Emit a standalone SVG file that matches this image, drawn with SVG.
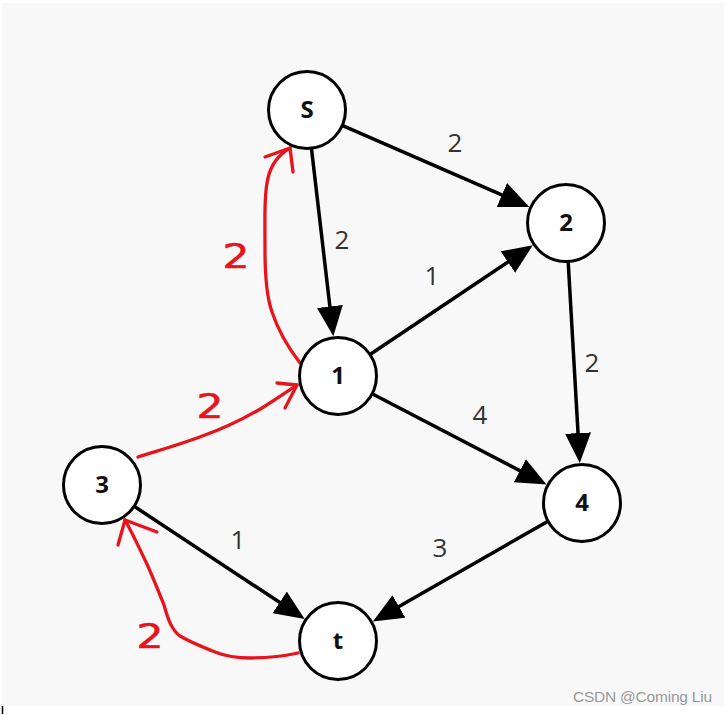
<svg xmlns="http://www.w3.org/2000/svg" width="726" height="715" viewBox="0 0 726 715">
<style>
.node circle{fill:#fff;stroke:#000;stroke-width:3}
.node text{font-family:"Open Sans","Liberation Sans",sans-serif;font-weight:bold;font-size:24px;fill:#111;text-anchor:middle}
.edge{stroke:#000;stroke-width:3.5;fill:none;marker-end:url(#ah)}
.elabel{font-family:"Open Sans","Liberation Sans",sans-serif;font-size:26px;fill:#333;text-anchor:middle}
.red{stroke:#e8141c;stroke-width:3.3;fill:none;stroke-linecap:round;stroke-linejoin:round}
.rlabel{font-family:"DejaVu Sans",sans-serif;font-size:34px;fill:#e8141c;stroke:#e8141c;stroke-width:0.6;text-anchor:middle}
</style>
<defs>
<marker id="ah" markerUnits="userSpaceOnUse" markerWidth="30" markerHeight="26" refX="8" refY="13" orient="auto">
<path d="M0,0 L30,13 L0,26 Z" fill="#000"/>
</marker>
</defs>
<rect x="0" y="0" width="726" height="715" fill="#fff"/>
<rect x="2" y="3" width="722" height="703" fill="#f8f8f8"/>
<line x1="2.5" y1="706" x2="2.5" y2="714" stroke="#000" stroke-width="1.5"/>
<g id="connectors">
<line class="edge" x1="342.7" y1="125.6" x2="509.2" y2="198.2"/>
<line class="edge" x1="311.5" y1="148.7" x2="330.8" y2="314.4"/>
<line class="edge" x1="370.4" y1="354.3" x2="514.5" y2="257.6"/>
<line class="edge" x1="568.2" y1="261.9" x2="578.5" y2="441.1"/>
<line class="edge" x1="372.6" y1="394" x2="527" y2="474.4"/>
<line class="edge" x1="134.5" y1="506.5" x2="286.3" y2="606.8"/>
<line class="edge" x1="548" y1="521.2" x2="392" y2="610.5"/>
<text class="elabel" x="455" y="152">2</text>
<text class="elabel" x="342" y="249">2</text>
<text class="elabel" x="432" y="285">1</text>
<text class="elabel" x="592" y="372">2</text>
<text class="elabel" x="480" y="424">4</text>
<text class="elabel" x="238" y="549">1</text>
<text class="elabel" x="440" y="557">3</text>
<path class="red" d="M300,363 C290,350 278,330 272,312 C266,295 265,275 265,250 C265,220 264,195 268,178 C271,165 278,155 290,148"/>
<path class="red" d="M265,157 L290,148 L293,172"/>
<path class="red" d="M138,457 C160,450 185,443 205,435 C225,428 245,418 262,408 C275,400 285,393 297,385"/>
<path class="red" d="M277,383 L297,385 L285,408"/>
<path class="red" d="M298,653 C280,657 265,658 250,658 C235,658 225,656 215,652 C200,646 190,642 180,636 C172,630 168,620 164,605 C158,590 152,575 146,562 C140,550 135,538 125,520"/>
<path class="red" d="M118,545 L125,520 L157,532"/>
<text class="rlabel" x="236" y="268" transform="translate(236,0) scale(1.25,1) translate(-236,0)">2</text>
<text class="rlabel" x="210" y="418" transform="translate(210,0) scale(1.25,1) translate(-210,0)">2</text>
<text class="rlabel" x="150" y="648" transform="translate(150,0) scale(1.25,1) translate(-150,0)">2</text>
</g>
<g id="node-s" class="node"><circle cx="307" cy="110" r="38.5"/><text x="307" y="118">S</text></g>
<g id="node-2" class="node"><circle cx="566" cy="223" r="38.5"/><text x="566" y="231">2</text></g>
<g id="node-1" class="node"><circle cx="338" cy="376" r="38.5"/><text x="338" y="384">1</text></g>
<g id="node-3" class="node"><circle cx="102" cy="485" r="38.5"/><text x="102" y="493">3</text></g>
<g id="node-4" class="node"><circle cx="582" cy="503" r="38.5"/><text x="582" y="511">4</text></g>
<g id="node-t" class="node"><circle cx="338" cy="641" r="38.5"/><text x="338" y="649">t</text></g>
<text x="573" y="702" font-family="Liberation Sans,sans-serif" font-size="15.5" fill="#999" textLength="139">CSDN @Coming Liu</text>
</svg>
